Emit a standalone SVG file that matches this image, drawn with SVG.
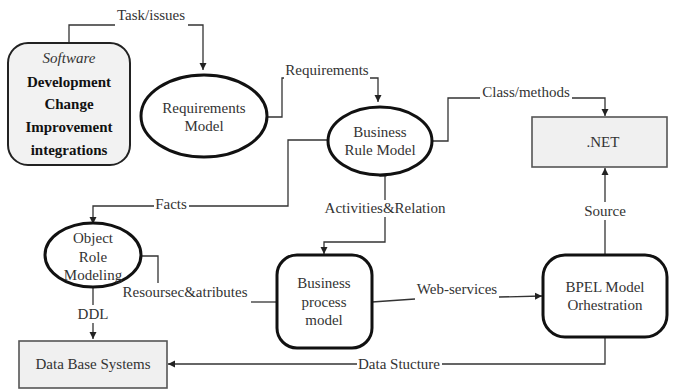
<svg xmlns="http://www.w3.org/2000/svg" width="675" height="392" viewBox="0 0 675 392" font-family="'Liberation Serif', 'DejaVu Serif', 'Times New Roman', serif">
<defs>
<marker id="ah" markerWidth="8" markerHeight="8" refX="7" refY="4" orient="auto" markerUnits="userSpaceOnUse">
<path d="M0,0.5 L7,4 L0,7.5 Z" fill="#222"/>
</marker>
<style>
text{font-family:'Liberation Serif','DejaVu Serif','Times New Roman',serif;font-size:15px;fill:#333;text-anchor:middle}
.b{font-weight:bold;fill:#111}
.i{font-style:italic}
.c{fill:none;stroke:#333;stroke-width:1.3}
.ell{fill:#fff;stroke:#111;stroke-width:3}
.rr{fill:#fff;stroke:#111;stroke-width:3}
.box{fill:#f0f0f0;stroke:#555;stroke-width:1.6}
</style>
</defs>
<rect width="675" height="392" fill="#fff"/>
<g id="connectors">
<path class="c" d="M69,43 V25 H115"/>
<path class="c" d="M188,25 H203 V70" marker-end="url(#ah)"/>
<path class="c" d="M267,117 H282 V78 H284"/>
<path class="c" d="M370,78 H378 V102" marker-end="url(#ah)"/>
<path class="c" d="M432,141 H448 V98 H480"/>
<path class="c" d="M572,98 H605 V116" marker-end="url(#ah)"/>
<path class="c" d="M327,140 H288 V206 H189"/>
<path class="c" d="M154,206 H93 V224" marker-end="url(#ah)"/>
<rect x="380" y="170" width="6" height="6" fill="#fff" stroke="#333" stroke-width="1.2"/>
<path class="c" d="M385,176 V200"/>
<path class="c" d="M385,217 V242 H324 V254" marker-end="url(#ah)"/>
<path class="c" d="M141,256 H158 V283"/>
<path class="c" d="M251,302 H277"/>
<path class="c" d="M93,287 V305"/>
<path class="c" d="M93,323 V339" marker-end="url(#ah)"/>
<path class="c" d="M372,302 L415,299"/>
<path class="c" d="M499,297 L542,296" marker-end="url(#ah)"/>
<path class="c" d="M605,255 V220"/>
<path class="c" d="M605,202 V168" marker-end="url(#ah)"/>
<path class="c" d="M605,337 V364 H442"/>
<path class="c" d="M357,364 H168" marker-end="url(#ah)"/>
<text x="151" y="20">Task/issues</text>
<text x="327" y="75">Requirements</text>
<text x="526" y="97">Class/methods</text>
<text x="171" y="209">Facts</text>
<text x="385" y="213">Activities&amp;Relation</text>
<text x="185" y="297">Resoursec&amp;atributes</text>
<text x="93" y="319">DDL</text>
<text x="457" y="294">Web-services</text>
<text x="605" y="216">Source</text>
<text x="399" y="369">Data Stucture</text>
</g>
<g id="software">
<rect x="8" y="43" width="122" height="122" rx="20" fill="#f2f2f2" stroke="#222" stroke-width="2"/>
<text x="69" y="63" class="i">Software</text>
<text x="69" y="87" class="b">Development</text>
<text x="69" y="109" class="b">Change</text>
<text x="69" y="132" class="b">Improvement</text>
<text x="69" y="155" class="b">integrations</text>
</g>
<g id="requirements-model">
<ellipse cx="204" cy="116" rx="63" ry="41" class="ell"/>
<text x="204" y="113">Requirements</text>
<text x="204" y="131">Model</text>
</g>
<g id="business-rule-model">
<ellipse cx="380" cy="141" rx="52" ry="34" class="ell"/>
<text x="380" y="137">Business</text>
<text x="380" y="155">Rule Model</text>
</g>
<g id="net">
<rect x="532" y="117" width="135" height="50" class="box"/>
<text x="603" y="147">.NET</text>
</g>
<g id="object-role-modeling">
<ellipse cx="93" cy="255" rx="48" ry="32" class="ell"/>
<text x="93" y="243">Object</text>
<text x="93" y="262">Role</text>
<text x="93" y="280">Modeling</text>
</g>
<g id="business-process-model">
<rect x="277" y="255" width="95" height="93" rx="20" class="rr"/>
<text x="324" y="288">Business</text>
<text x="324" y="307">process</text>
<text x="324" y="325">model</text>
</g>
<g id="bpel">
<rect x="543" y="255" width="124" height="82" rx="22" class="rr"/>
<text x="605" y="292">BPEL Model</text>
<text x="605" y="310">Orhestration</text>
</g>
<g id="database">
<rect x="19" y="341" width="148" height="47" class="box"/>
<text x="93" y="369">Data Base Systems</text>
</g>
</svg>
